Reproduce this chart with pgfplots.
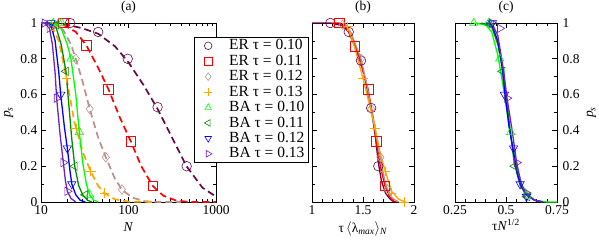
\documentclass[border=0pt]{standalone}
\usepackage{fontspec}
\setmainfont{Liberation Serif}
\usepackage{pgfplots}
\pgfplotsset{compat=1.18}
\definecolor{cmaroon}{RGB}{103,7,72}
\definecolor{crosy}{RGB}{188,143,143}
\definecolor{corange}{RGB}{255,165,0}
\definecolor{cgreen}{RGB}{0,255,0}
\definecolor{cdgreen}{RGB}{0,139,0}
\definecolor{cblue}{RGB}{0,0,255}
\definecolor{cindigo}{RGB}{114,33,188}
\newcommand{\bigf}{\fontsize{13.5pt}{16pt}\selectfont}
\newcommand{\legf}{\fontsize{15.5pt}{17pt}\selectfont}
\pgfplotsset{
 every axis/.append style={scale only axis,
   /pgf/number format/assume math mode=true, tick align=inside,
   xtick pos=both, ytick pos=both, major tick length=5pt, minor tick length=3pt,
   every tick/.style={black, line width=0.6pt}, axis line style={line width=0.8pt},
   ymin=0, ymax=1, ytick={0,0.2,0.4,0.6,0.8,1}, minor y tick num=1,
   xticklabel style={yshift=1pt, font=\bigf}, yticklabel style={xshift=1pt, font=\bigf},
   label style={font=\bigf},
   title style={yshift=-1pt, font=\bigf}},
 dashER/.style={line width=1.7pt, dash pattern=on 7pt off 4pt},
 solBA/.style={line width=1.3pt},
 mk/.style={only marks, mark size=4.8pt, line width=0.6pt, mark options={fill=none, solid}},
}
\newcommand{\tl}{τ}
\begin{document}
\bigf
\begin{tikzpicture}
\useasboundingbox (0pt,0pt) rectangle (599pt,241pt);
% ---------------- panel (a)
\begin{axis}[at={(41pt,39pt)}, anchor=south west, width=175pt, height=179pt,
  xmode=log, xmin=10, xmax=1000, xtick={10,100,1000}, xticklabels={10,100,1000},
  title={(a)}, xlabel={\textit{N}}, ylabel={\textit{p}\textsubscript{\textit{s}}},
  xlabel style={yshift=1pt}, ylabel style={yshift=-2pt},
  legend cell align=left,
  legend style={at={(0.874,0.922)}, anchor=north west, draw=black, line width=0.5pt,
    fill=white, font=\legf, inner xsep=2pt, inner ysep=2pt, row sep=2.3pt,
    nodes={inner ysep=0.4pt, inner xsep=2pt}},
  legend image code/.code={\path[draw=none] (0pt,0pt) -- (31pt,0pt); \draw[mark size=3.8pt] plot coordinates {(12pt,0pt)};},
]
% curves
\addplot[cmaroon, dashER, forget plot] coordinates {(10,1)(15,0.998)(20,0.99)(30,0.97)(45,0.94)(70,0.87)(100,0.78)(150,0.65)(215,0.52)(300,0.38)(460,0.2)(700,0.08)(1000,0.03)};
\addplot[red, dashER, forget plot] coordinates {(10,1)(15,1)(18,0.99)(25,0.95)(33,0.875)(45,0.75)(59,0.63)(80,0.47)(106,0.34)(140,0.2)(189,0.09)(250,0.035)(350,0.008)(500,0)(1000,0)};
\addplot[crosy, dashER, forget plot] coordinates {(10,1)(14,1)(18,0.96)(22,0.88)(25,0.8)(30,0.67)(36,0.52)(45,0.36)(55,0.25)(70,0.13)(84,0.07)(110,0.025)(150,0.005)(220,0)(400,0)};
\addplot[corange, dashER, forget plot] coordinates {(10,1)(13,0.99)(16,0.9)(19.6,0.69)(24,0.45)(30,0.28)(37,0.17)(45,0.09)(53,0.05)(70,0.015)(100,0.002)(200,0)};
\addplot[cgreen, solBA, forget plot] coordinates {(12,1)(14,1)(17,0.97)(20,0.88)(22,0.8)(25,0.6)(27.4,0.39)(30,0.22)(33,0.1)(36,0.04)(40,0.01)(45,0)};
\addplot[cdgreen, solBA, forget plot] coordinates {(12,1)(13,1)(15,0.97)(17,0.88)(19.3,0.73)(21,0.52)(22.5,0.35)(24.3,0.2)(27,0.09)(30,0.04)(34,0.01)(38,0)};
\addplot[cblue, solBA, forget plot] coordinates {(11,1)(12,1)(13,0.99)(14.5,0.9)(16,0.72)(16.8,0.6)(18.5,0.42)(20,0.3)(21.5,0.17)(22.5,0.1)(25,0.04)(28,0.01)(32,0)};
\addplot[cindigo, solBA, forget plot] coordinates {(10,1)(11,1)(12.5,0.97)(13.5,0.88)(14.5,0.72)(15.1,0.58)(16.5,0.38)(18,0.22)(19,0.12)(20,0.06)(22,0.02)(25,0)};
% markers
\addplot[cmaroon, mk, mark=o] coordinates {(21.5,1)(45,0.95)(98,0.8)(215,0.53)(462,0.2)};
\addplot[red, mk, mark=square] coordinates {(18,1)(33,0.875)(59,0.63)(106,0.34)(189,0.09)};
\addplot[crosy, mk, mark=diamond] coordinates {(16,1)(25,0.8)(36,0.52)(55,0.25)(84,0.07)};
\addplot[corange, mk, mark=+] coordinates {(13.5,0.98)(19.6,0.69)(25,0.41)(37,0.17)(53,0.05)};
\addplot[cgreen, mk, mark=triangle] coordinates {(13.8,1)(17.2,1)(22,0.8)(27.4,0.39)(36,0.04)};
\addplot[cdgreen, mk, mark=triangle, mark options={rotate=90}] coordinates {(15,0.99)(19.3,0.73)(24.3,0.2)(32,0.04)};
\addplot[cblue, mk, mark=triangle, mark options={rotate=180}] coordinates {(13,1)(16.8,0.6)(20,0.3)(22.5,0.1)};
\addplot[cindigo, mk, mark=triangle, mark options={rotate=270}] coordinates {(11,1)(12.5,0.97)(15.1,0.58)(18,0.22)(20,0.06)};
\legend{ER \tl\ = 0.10, ER \tl\ = 0.11, ER \tl\ = 0.12, ER \tl\ = 0.13, BA \tl\ = 0.10, BA \tl\ = 0.11, BA \tl\ = 0.12, BA \tl\ = 0.13}
\end{axis}
% ---------------- panel (b)
\begin{axis}[at={(312pt,39pt)}, anchor=south west, width=102pt, height=179pt,
  xmin=1, xmax=2, xtick={1,1.5,2}, xticklabels={1,1.5,2}, minor x tick num=4, yticklabels={},
  title={(b)},
  xlabel={\tl\,$\langle$λ\textsubscript{\textit{max}}$\rangle$\textsubscript{\textit{N}}},
  xlabel style={yshift=2pt},
]
\addplot[cmaroon, solBA] coordinates {(1.0,1)(1.18,1)(1.3,0.985)(1.36,0.95)(1.42,0.88)(1.48,0.79)(1.53,0.66)(1.58,0.525)(1.62,0.37)(1.65,0.22)(1.68,0.12)(1.72,0.05)(1.76,0.02)(1.8,0)};
\addplot[red, solBA] coordinates {(1.2,1)(1.265,1)(1.35,0.96)(1.42,0.87)(1.49,0.75)(1.55,0.63)(1.6,0.47)(1.63,0.34)(1.67,0.2)(1.715,0.09)(1.76,0.03)(1.8,0.005)(1.83,0)};
\addplot[crosy, solBA] coordinates {(1.3,1)(1.38,0.95)(1.48,0.8)(1.54,0.65)(1.58,0.52)(1.63,0.37)(1.67,0.25)(1.71,0.13)(1.74,0.07)(1.79,0.02)(1.85,0)};
\addplot[corange, solBA] coordinates {(1.3,1)(1.35,0.98)(1.42,0.86)(1.5,0.69)(1.56,0.55)(1.62,0.41)(1.67,0.27)(1.72,0.17)(1.78,0.06)(1.85,0.015)(1.92,0)};
\addplot[cmaroon, mk, mark=o] coordinates {(1.18,1)(1.36,0.95)(1.48,0.79)(1.58,0.525)(1.65,0.2)};
\addplot[red, mk, mark=square] coordinates {(1.265,1)(1.42,0.87)(1.55,0.63)(1.63,0.34)(1.715,0.09)};
\addplot[crosy, mk, mark=diamond] coordinates {(1.3,0.99)(1.48,0.8)(1.58,0.52)(1.67,0.25)(1.74,0.07)};
\addplot[corange, mk, mark=+] coordinates {(1.35,0.98)(1.5,0.69)(1.62,0.41)(1.72,0.17)(1.78,0.05)(1.9,0.0)};
\end{axis}
% ---------------- panel (c)
\begin{axis}[at={(455pt,39pt)}, anchor=south west, width=102pt, height=179pt,
  xmin=0.25, xmax=0.75, xtick={0.25,0.5,0.75}, xticklabels={0.25,0.5,0.75}, minor x tick num=4,
  yticklabel pos=right, title={(c)},
  xlabel={\tl\textit{N}\textsuperscript{1/2}}, xlabel style={yshift=5pt},
  ylabel={\textit{p}\textsubscript{\textit{s}}}, ylabel style={yshift=2pt},
]
\addplot[cgreen, solBA] coordinates {(0.34,1)(0.4,0.99)(0.43,0.95)(0.46,0.82)(0.49,0.62)(0.52,0.39)(0.55,0.2)(0.58,0.09)(0.61,0.04)(0.64,0.01)(0.7,0)(0.75,0)};
\addplot[cdgreen, solBA] coordinates {(0.38,1)(0.43,0.98)(0.46,0.88)(0.485,0.73)(0.51,0.5)(0.54,0.22)(0.57,0.09)(0.6,0.04)(0.64,0.01)(0.68,0)};
\addplot[cblue, solBA] coordinates {(0.4,1)(0.43,0.99)(0.46,0.9)(0.48,0.76)(0.495,0.6)(0.515,0.42)(0.537,0.28)(0.555,0.16)(0.575,0.09)(0.6,0.04)(0.64,0.01)(0.68,0)};
\addplot[cindigo, solBA] coordinates {(0.4,1)(0.43,1)(0.46,0.93)(0.49,0.72)(0.505,0.58)(0.53,0.4)(0.552,0.22)(0.575,0.1)(0.6,0.04)(0.64,0.01)(0.68,0)};
\addplot[cgreen, mk, mark=triangle] coordinates {(0.342,1)(0.415,1)(0.469,0.8)(0.523,0.39)(0.6,0.04)};
\addplot[cdgreen, mk, mark=triangle, mark options={rotate=90}] coordinates {(0.426,0.99)(0.483,0.73)(0.542,0.2)(0.605,0.03)};
\addplot[cblue, mk, mark=triangle, mark options={rotate=180}] coordinates {(0.433,1)(0.492,0.6)(0.537,0.3)(0.569,0.1)(0.6,0.03)};
\addplot[cindigo, mk, mark=triangle, mark options={rotate=270}] coordinates {(0.431,1)(0.47,0.97)(0.505,0.58)(0.552,0.22)(0.6,0.05)};
\end{axis}
\end{tikzpicture}
\end{document}
